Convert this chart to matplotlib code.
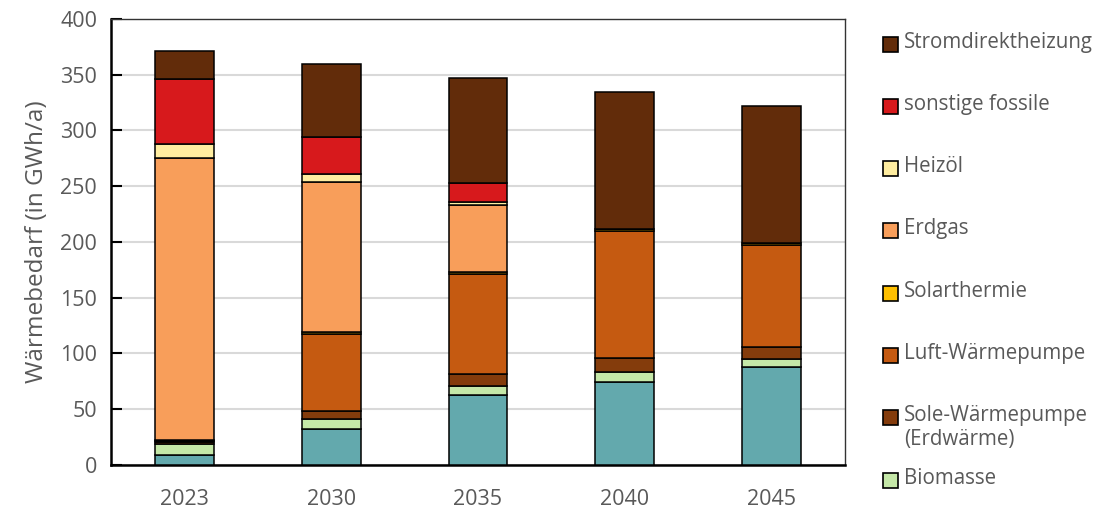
import numpy as np
import matplotlib
matplotlib.use("Agg")
from matplotlib import pyplot as plt
from matplotlib.patches import Rectangle

plt.rcParams['font.family'] = ['Open Sans', 'DejaVu Sans']

years = ["2023", "2030", "2035", "2040", "2045"]

# stacked from bottom to top (GWh/a)
fernwaerme = [8.7, 32.3, 62.7, 74.6, 87.5]
biomasse = [10.1, 9.0, 8.3, 8.4, 7.5]
sole_wp = [1.6, 7.4, 10.2, 13.1, 11.0]
luft_wp = [1.4, 68.8, 90.4, 113.9, 91.0]
solarthermie = [0.6, 1.5, 1.4, 2.0, 2.4]
erdgas = [252.6, 135.0, 60.4, 0, 0]
heizoel = [12.9, 6.7, 2.6, 0, 0]
sonstige_fossile = [58.1, 33.3, 16.8, 0, 0]
stromdirekt = [25.6, 66.0, 94.1, 122.3, 122.4]

series = [
    ("Fernwärme", fernwaerme, "#63a9ad"),
    ("Biomasse", biomasse, "#c5e8a8"),
    ("Sole-Wärmepumpe\n(Erdwärme)", sole_wp, "#843c0c"),
    ("Luft-Wärmepumpe", luft_wp, "#c55a11"),
    ("Solarthermie", solarthermie, "#ffc000"),
    ("Erdgas", erdgas, "#f89e5a"),
    ("Heizöl", heizoel, "#ffeda0"),
    ("sonstige fossile", sonstige_fossile, "#d7191c"),
    ("Stromdirektheizung", stromdirekt, "#622c0a"),
]

grey = "#595959"

fig = plt.figure(figsize=(11.05, 5.12), dpi=100)
ax = fig.add_axes([0.1005, 0.0918, 0.664, 0.8712])

x = np.arange(len(years))
bottom = np.zeros(len(years))
for name, vals, col in series:
    vals = np.array(vals, dtype=float)
    ax.bar(x, vals, 0.4, bottom=bottom, color=col, edgecolor="black",
           linewidth=1.1, zorder=3)
    bottom += vals

ax.set_xlim(-0.5, 4.5)
ax.set_ylim(0, 400)
ax.set_yticks(np.arange(0, 401, 50))
ax.set_xticks(x)
ax.set_xticklabels(years)
ax.grid(axis="y", color="#d9d9d9", linewidth=1.5, zorder=0)
ax.tick_params(axis="y", direction="in", length=8, width=1.5, colors="black",
               labelcolor=grey, labelsize=15.5, pad=10)
ax.tick_params(axis="x", length=0, labelcolor=grey, labelsize=15.5, pad=17)
for s in ["left", "bottom"]:
    ax.spines[s].set_linewidth(1.8)
for s in ["top", "right"]:
    ax.spines[s].set_linewidth(1.0)
    ax.spines[s].set_color("#333333")
ax.set_ylabel("Wärmebedarf (in GWh/a)", color=grey, fontsize=17.5, labelpad=8)

# legend (top to bottom, reversed stack order, Fernwärme cut off)
leg_y = [44, 106, 168, 230, 293, 355, 417, 480]
for (name, vals, col), yy in zip(series[::-1][:8], leg_y):
    yf = 1 - yy / 512
    fig.patches.append(Rectangle((883 / 1105, yf - 7.5 / 512), 15 / 1105, 15 / 512,
                                 transform=fig.transFigure, facecolor=col,
                                 edgecolor="black", linewidth=1.2))
    fig.text(904 / 1105, yf + 12 / 512, name, color=grey, fontsize=14.8,
             va="top", ha="left", linespacing=1.2)

fig.savefig("out.png", dpi=100)
